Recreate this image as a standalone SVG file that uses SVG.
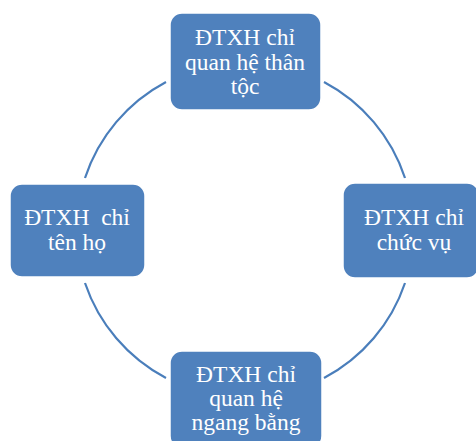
<svg xmlns="http://www.w3.org/2000/svg" width="476" height="441" viewBox="0 0 476 441">
<style>
.box{fill:#4f81bd;stroke:#ffffff;stroke-width:1.5}
.t{font-family:'Liberation Serif','DejaVu Serif',serif;font-size:23.5px;fill:#ffffff;text-anchor:middle}
.arc{fill:none;stroke:#4a7ebb;stroke-width:2.2}
</style>
<rect width="476" height="441" fill="#ffffff"/>
<g id="connectors">
<path class="arc" d="M166,82 A168,168 0 0 0 85,178"/>
<path class="arc" d="M85,283 A168,168 0 0 0 166,378"/>
<path class="arc" d="M324,378 A168,168 0 0 0 405,283"/>
<path class="arc" d="M405,178 A168,168 0 0 0 324,82"/>
</g>
<g id="node-top">
<rect class="box" x="170" y="13" width="151" height="97" rx="12"/>
<text class="t" x="245" y="45">ĐTXH chỉ</text>
<text class="t" x="245" y="70">quan hệ thân</text>
<text class="t" x="245" y="94">tộc</text>
</g>
<g id="node-left">
<rect class="box" x="10" y="184" width="135" height="93" rx="12"/>
<text class="t" x="77" y="225" xml:space="preserve">ĐTXH  chỉ</text>
<text class="t" x="77" y="250">tên họ</text>
</g>
<g id="node-right">
<rect class="box" x="343" y="183" width="136" height="95" rx="12"/>
<text class="t" x="414" y="225">ĐTXH chỉ</text>
<text class="t" x="414" y="250">chức vụ</text>
</g>
<g id="node-bottom">
<rect class="box" x="170" y="351" width="152" height="97" rx="12"/>
<text class="t" x="246" y="382">ĐTXH chỉ</text>
<text class="t" x="246" y="406">quan hệ</text>
<text class="t" x="246" y="430">ngang bằng</text>
</g>
</svg>
